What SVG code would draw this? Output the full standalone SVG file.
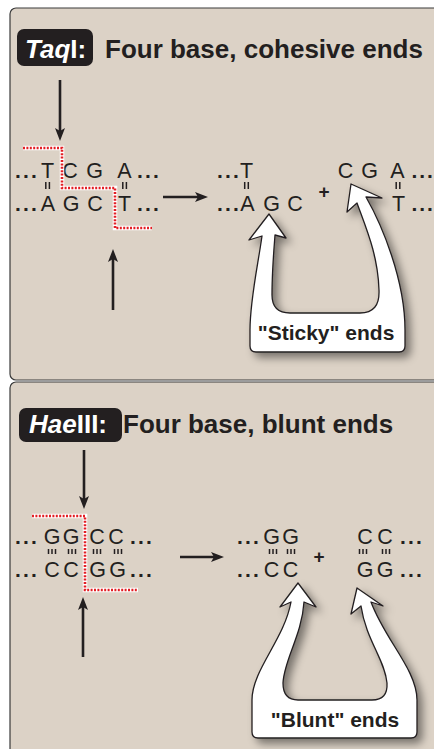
<svg xmlns="http://www.w3.org/2000/svg" width="434" height="749" viewBox="0 0 434 749">
<style>
.panel{fill:#dcd2c6;stroke:#3a3a3a;stroke-width:1.2}
.badge{fill:#231f20}
.title{font-family:"Liberation Sans",Arial,Helvetica,sans-serif;font-weight:bold;font-size:26px;fill:#231f20}
.btxt{font-family:"Liberation Sans",Arial,Helvetica,sans-serif;font-weight:bold;font-size:26px;fill:#fff}
.seq{font-family:"Liberation Sans",Arial,Helvetica,sans-serif;font-size:21.5px;fill:#231f20;text-anchor:middle}
.dots{font-family:"Liberation Sans",Arial,Helvetica,sans-serif;font-weight:bold;font-size:21px;fill:#231f20;letter-spacing:2.2px}
.dotsr{font-family:"Liberation Sans",Arial,Helvetica,sans-serif;font-weight:bold;font-size:21px;fill:#231f20}
.plus{font-family:"Liberation Sans",Arial,Helvetica,sans-serif;font-weight:bold;font-size:19px;fill:#231f20;text-anchor:middle}
.tick{stroke:#231f20;stroke-width:1.5}
.arrow{stroke:#231f20;stroke-width:2.6;fill:none;marker-end:url(#ah)}
.cutw{fill:none;stroke:#fff;stroke-width:4.5}
.cutr{fill:none;stroke:#e31e24;stroke-width:2.6;stroke-dasharray:2 1.4}
.callout{fill:#fff;stroke:#231f20;stroke-width:1.3;stroke-linejoin:round;filter:url(#sh)}
.ctxt{font-family:"Liberation Sans",Arial,Helvetica,sans-serif;font-weight:bold;font-size:21px;fill:#231f20;text-anchor:middle}
</style>
<defs>
<marker id="ah" viewBox="0 0 13 10" refX="6" refY="5" markerWidth="13" markerHeight="10" markerUnits="userSpaceOnUse" orient="auto">
<path d="M0,0 L13,5 L0,10 L3,5 Z" fill="#231f20"/>
</marker>
<filter id="sh" x="-20%" y="-20%" width="150%" height="150%">
<feDropShadow dx="5" dy="5" stdDeviation="4" flood-color="#000" flood-opacity="0.45"/>
</filter>
</defs>
<rect width="434" height="749" fill="#fff"/>

<g id="panel-taqi">
<rect class="panel" x="10" y="8" width="440" height="372" rx="6"/>
<g id="title-taqi">
<rect class="badge" x="17" y="29" width="76" height="37" rx="7"/>
<text class="btxt" x="25" y="58"><tspan font-style="italic">Taq</tspan>I:</text>
<text class="title" x="105" y="58">Four base, cohesive ends</text>
</g>
<g id="seq-taqi">
<text class="dots" x="15" y="178">...</text>
<text class="seq" y="178"><tspan x="47.5">T</tspan><tspan x="70">C</tspan><tspan x="94.5">G</tspan><tspan x="124.5">A</tspan></text>
<text class="dots" x="137" y="178">...</text>
<text class="dots" x="15" y="211">...</text>
<text class="seq" y="211"><tspan x="48">A</tspan><tspan x="71">G</tspan><tspan x="95">C</tspan><tspan x="124.5">T</tspan></text>
<text class="dots" x="137" y="211">...</text>
<path class="tick" d="M45.8,182v7M49.4,182v7M122.8,182v7M126.4,182v7"/>
</g>
<g id="cut-taqi">
<path class="cutw" d="M23,148H62V188H115V228H152"/>
<path class="cutr" d="M23,148H62V188H115V228H152"/>
</g>
<g id="products-taqi">
<text class="dots" x="217" y="178">...</text>
<text class="seq" x="246.5" y="178">T</text>
<text class="dots" x="217" y="211">...</text>
<text class="seq" y="211"><tspan x="247.5">A</tspan><tspan x="271.5">G</tspan><tspan x="295">C</tspan></text>
<path class="tick" d="M244.7,182v7M248.3,182v7M396.2,182v7M399.8,182v7"/>
<text class="plus" x="324" y="198">+</text>
<text class="seq" y="178"><tspan x="345.5">C</tspan><tspan x="369.5">G</tspan><tspan x="397.5">A</tspan></text>
<text class="dotsr" x="411.5 419.3 427" y="178">...</text>
<text class="seq" x="398.5" y="211">T</text>
<text class="dotsr" x="411.5 419.3 427" y="211">...</text>
</g>
<g id="sticky-callout">
<path class="callout" d="M269,214 L286,238 L275,235 C273,260 272,280 272,295 Q272,313 290,313 L360,313 Q380,313 379,290 C378,255 366,228 357,203 L347,212 L351,184 L382,198 L366,197 C382,225 405,280 405,330 L405,346 Q405,352 399,352 L256,352 Q250,352 250,346 L250,330 C250,300 258,265 262,236 L249,240 Z"/>
<text class="ctxt" x="326" y="340">"Sticky" ends</text>
</g>
</g>

<g id="panel-haeiii">
<rect class="panel" x="10" y="382" width="440" height="380" rx="6"/>
<g id="title-haeiii">
<rect class="badge" x="19" y="408" width="103" height="34" rx="7"/>
<text class="btxt" x="29" y="433"><tspan font-style="italic">Hae</tspan>III:</text>
<text class="title" x="123" y="433">Four base, blunt ends</text>
</g>
<g id="seq-haeiii">
<text class="dots" x="15" y="544">...</text>
<text class="seq" y="544"><tspan x="52">G</tspan><tspan x="71">G</tspan><tspan x="97">C</tspan><tspan x="116">C</tspan></text>
<text class="dots" x="130" y="544">...</text>
<text class="dots" x="15" y="577">...</text>
<text class="seq" y="577"><tspan x="52">C</tspan><tspan x="71">C</tspan><tspan x="97.5">G</tspan><tspan x="117.5">G</tspan></text>
<text class="dots" x="130" y="577">...</text>
<path class="tick" d="M48.5,549v5M52,549v5M55.5,549v5M68.5,549v5M72,549v5M75.5,549v5M93.5,549v5M97,549v5M100.5,549v5M114.5,549v5M118,549v5M121.5,549v5"/>
</g>
<g id="cut-haeiii">
<path class="cutw" d="M32,516H85V590H138"/>
<path class="cutr" d="M32,516H85V590H138"/>
</g>
<g id="products-haeiii">
<text class="dots" x="237" y="544">...</text>
<text class="seq" y="544"><tspan x="271.5">G</tspan><tspan x="290.5">G</tspan></text>
<text class="dots" x="237" y="577">...</text>
<text class="seq" y="577"><tspan x="271.5">C</tspan><tspan x="290.5">C</tspan></text>
<path class="tick" d="M269.5,549v5M273,549v5M276.5,549v5M287.5,549v5M291,549v5M294.5,549v5M359.5,549v5M363,549v5M366.5,549v5M382.5,549v5M386,549v5M389.5,549v5"/>
<text class="plus" x="319" y="563">+</text>
<text class="seq" y="544"><tspan x="365">C</tspan><tspan x="385">C</tspan></text>
<text class="dots" x="400" y="544">...</text>
<text class="seq" y="577"><tspan x="365">G</tspan><tspan x="385">G</tspan></text>
<text class="dots" x="400" y="577">...</text>
</g>
<g id="blunt-callout">
<path class="callout" d="M298,583 L316,607 L304,602 C302,635 284,660 283,683 Q283,700 298,700 L372,700 Q388,700 387,683 C385,660 366,640 361,606 L351,614 L357,588 L383,606 L371,602 C385,640 417,670 417,700 L417,732 Q417,738 411,738 L258,738 Q252,738 252,732 L252,700 C252,670 284,640 291,602 L280,607 Z"/>
<text class="ctxt" x="335" y="727">"Blunt" ends</text>
</g>
</g>

<g id="connectors">
<path class="arrow" d="M60,80V134"/>
<path class="arrow" d="M113,310V256"/>
<path class="arrow" d="M163,197H201"/>
<path class="arrow" d="M84,450V502"/>
<path class="arrow" d="M83,657V604"/>
<path class="arrow" d="M180,557H217"/>
</g>
</svg>
